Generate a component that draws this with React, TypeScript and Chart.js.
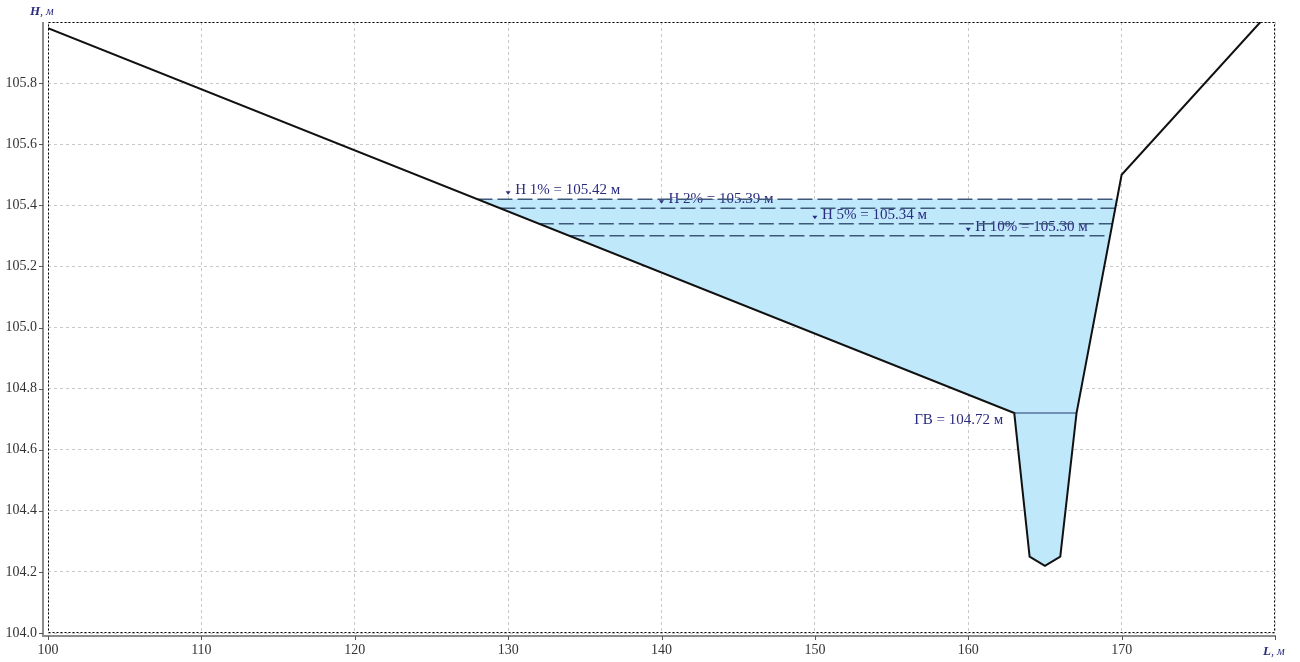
import React, { useEffect, useRef } from "react";
import { Chart, registerables } from "chart.js";

Chart.register(...registerables);

// Terrain cross-section profile
const terrainL = [100, 163, 164, 165, 166, 167.06, 170, 179.05];
const terrainH = [105.98, 104.72, 104.25, 104.22, 104.25, 104.72, 105.5, 106.0];

// Water body (filled) at the highest level
const waterL = [128.0, 169.7, 167.06, 166, 165, 164, 163, 128.0];
const waterH = [105.42, 105.42, 104.72, 104.25, 104.22, 104.25, 104.72, 105.42];

// Flood water levels
const levelNames = ["H 1%", "H 2%", "H 5%", "H 10%"];
const levelValues = [105.42, 105.39, 105.34, 105.3];
const levelLeft = [128.0, 129.5, 132.0, 134.0];
const levelRight = [169.7, 169.59, 169.4, 169.25];
const levelLabelAt = [130, 140, 150, 160];

// Ground water level
const gvName = "ГВ";
const gvValue = 104.72;
const gvLeft = 163;
const gvRight = 167.06;

const xMin = 100;
const xMax = 180;
const xStep = 10;
const yMin = 104.0;
const yMax = 106.0;
const yStep = 0.2;

const NAVY = "#2b2b80";
const SERIF = "'Liberation Serif', 'Times New Roman', serif";

const decorPlugin = {
  id: "decor",
  afterDatasetDraw(chart: any, args: any) {
    if (args.index !== 0) return;
    const { ctx, scales } = chart;
    const x = scales.x;
    const y = scales.y;
    ctx.save();
    ctx.fillStyle = NAVY;
    ctx.font = `15px ${SERIF}`;
    ctx.textBaseline = "middle";
    ctx.textAlign = "left";
    levelNames.forEach((name, i) => {
      const px = x.getPixelForValue(levelLabelAt[i]);
      const py = y.getPixelForValue(levelValues[i]);
      ctx.beginPath();
      ctx.moveTo(px - 2.5, py - 8);
      ctx.lineTo(px + 2.5, py - 8);
      ctx.lineTo(px, py - 4.5);
      ctx.closePath();
      ctx.fill();
      ctx.fillText(`${name} = ${levelValues[i].toFixed(2)} м`, px + 7, py - 9);
    });
    const gx = x.getPixelForValue(gvLeft);
    const gy = y.getPixelForValue(gvValue);
    ctx.textAlign = "right";
    ctx.fillText(`${gvName} = ${gvValue.toFixed(2)} м`, gx - 11, gy + 7);
    ctx.restore();
  },
  afterDraw(chart: any) {
    const { ctx, chartArea: a, scales } = chart;
    const x = scales.x;
    const y = scales.y;
    ctx.save();
    // dotted plot border
    ctx.strokeStyle = "#000";
    ctx.lineWidth = 1;
    ctx.setLineDash([2, 2]);
    ctx.strokeRect(a.left + 0.5, a.top + 0.5, a.right - a.left - 1, a.bottom - a.top - 1);
    // solid offset axes
    ctx.setLineDash([]);
    ctx.strokeStyle = "#8c8c8c";
    ctx.lineWidth = 2;
    ctx.beginPath();
    ctx.moveTo(a.left - 5, a.top);
    ctx.lineTo(a.left - 5, a.bottom + 3);
    ctx.lineTo(a.right + 1, a.bottom + 3);
    ctx.stroke();
    // tick marks
    ctx.strokeStyle = "#555";
    ctx.lineWidth = 1;
    ctx.beginPath();
    y.ticks.forEach((t: any) => {
      if (t.value >= yMax - 1e-9) return;
      const py = Math.round(y.getPixelForValue(t.value)) + 0.5;
      ctx.moveTo(a.left - 9, py);
      ctx.lineTo(a.left - 5, py);
    });
    x.ticks.forEach((t: any) => {
      const px = Math.round(x.getPixelForValue(t.value)) + 0.5;
      ctx.moveTo(px, a.bottom + 3);
      ctx.lineTo(px, a.bottom + 7);
    });
    ctx.stroke();
    // axis titles
    ctx.fillStyle = NAVY;
    ctx.textBaseline = "middle";
    ctx.textAlign = "left";
    ctx.font = `italic bold 13px ${SERIF}`;
    const hW = ctx.measureText("H").width;
    ctx.fillText("H", 30, 12);
    ctx.font = `italic 12px ${SERIF}`;
    ctx.fillText(", м", 30 + hW, 12);
    ctx.font = `italic bold 13px ${SERIF}`;
    const lW = ctx.measureText("L").width;
    ctx.fillText("L", 1263, 652);
    ctx.font = `italic 12px ${SERIF}`;
    ctx.fillText(", м", 1263 + lW, 652);
    ctx.restore();
  },
};

export default function App() {
  const ref = useRef<HTMLCanvasElement | null>(null);

  useEffect(() => {
    if (!ref.current) return;
    const pts = (xs: number[], ys: number[]) => xs.map((v, i) => ({ x: v, y: ys[i] }));

    const levelSets = levelValues.map((v, i) => ({
      label: levelNames[i],
      data: [
        { x: levelLeft[i], y: v },
        { x: levelRight[i], y: v },
      ],
      showLine: true,
      borderColor: "#3d5878",
      borderWidth: 1.5,
      borderDash: [15, 5],
      pointRadius: 0,
      fill: false,
      order: 2,
    }));

    const chart = new Chart(ref.current, {
      type: "scatter",
      data: {
        datasets: [
          {
            label: "water",
            data: pts(waterL, waterH),
            showLine: true,
            borderWidth: 0,
            borderColor: "rgba(0,0,0,0)",
            backgroundColor: "#bfe8fb",
            pointRadius: 0,
            fill: "shape",
            tension: 0,
            order: 5,
          } as any,
          ...levelSets,
          {
            label: gvName,
            data: [
              { x: gvLeft, y: gvValue },
              { x: gvRight, y: gvValue },
            ],
            showLine: true,
            borderColor: "#56739e",
            borderWidth: 1.5,
            pointRadius: 0,
            fill: false,
            order: 1,
          },
          {
            label: "terrain",
            data: pts(terrainL, terrainH),
            showLine: true,
            borderColor: "#111",
            borderWidth: 2,
            pointRadius: 0,
            fill: false,
            tension: 0,
            order: 0,
          },
        ],
      },
      options: {
        animation: false,
        responsive: false,
        maintainAspectRatio: false,
        layout: { padding: { top: 22, right: 25, left: 0, bottom: 0 } },
        plugins: {
          legend: { display: false },
          tooltip: { enabled: false },
        },
        scales: {
          x: {
            type: "linear",
            min: xMin,
            max: xMax,
            ticks: {
              stepSize: xStep,
              padding: 9,
              color: "#333",
              font: { family: SERIF, size: 14 },
              maxRotation: 0,
              callback: (v: any) => (Number(v) >= xMax ? "" : String(v)),
            },
            grid: { color: "#c8c8c8", lineWidth: 1, drawTicks: false },
            border: { display: false, dash: [3, 3] },
            afterFit: (s: any) => {
              s.height = 29;
            },
          },
          y: {
            type: "linear",
            min: yMin,
            max: yMax,
            ticks: {
              stepSize: yStep,
              padding: 11,
              color: "#333",
              font: { family: SERIF, size: 14 },
              callback: (v: any) => (Number(v) >= yMax - 1e-9 ? "" : Number(v).toFixed(1)),
            },
            grid: { color: "#c8c8c8", lineWidth: 1, drawTicks: false },
            border: { display: false, dash: [3, 3] },
            afterFit: (s: any) => {
              s.width = 48;
            },
          },
        },
      },
      plugins: [decorPlugin],
    });
    return () => chart.destroy();
  }, []);

  return (
    <div style={{ position: "absolute", left: 0, top: 0, width: 1300, height: 662, background: "#fff" }}>
      <canvas ref={ref} width={1300} height={662} style={{ display: "block" }} />
    </div>
  );
}
